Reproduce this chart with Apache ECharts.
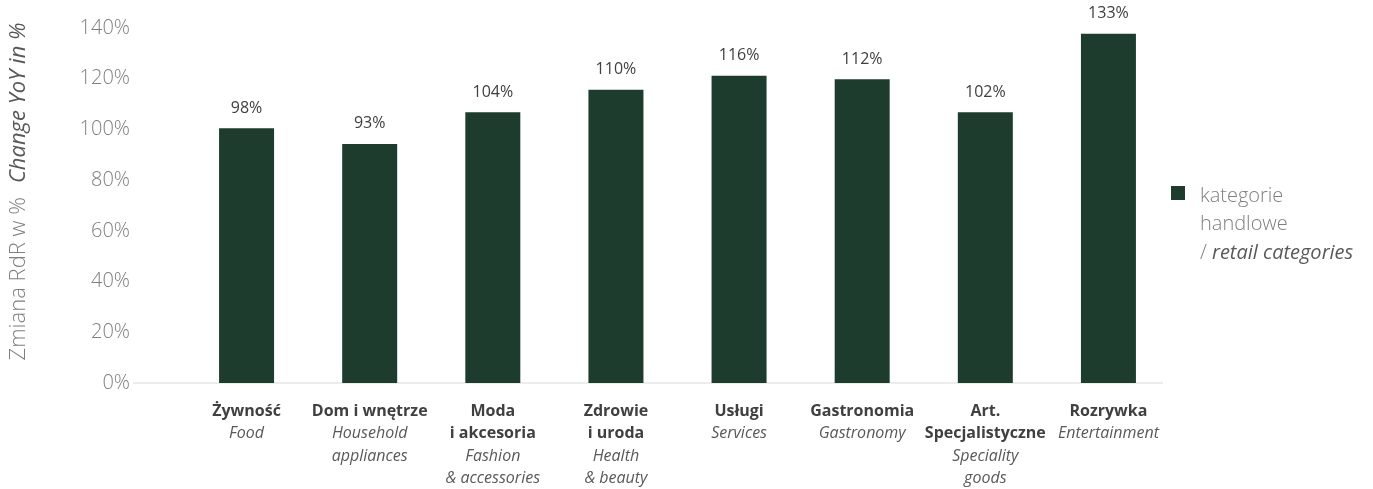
<!DOCTYPE html>
<html>
<head>
<meta charset="utf-8">
<script src="https://cdn.jsdelivr.net/npm/echarts@6/dist/echarts.min.js"></script>
<style>
html,body{margin:0;padding:0;background:#fff;}
#chart{width:1373px;height:489px;}
</style>
</head>
<body>
<div id="chart"></div>
<script>
const categoriesPL = ['Żywność', 'Dom i wnętrze', 'Moda\ni akcesoria', 'Zdrowie\ni uroda', 'Usługi', 'Gastronomia', 'Art.\nSpecjalistyczne', 'Rozrywka'];
const categoriesEN = ['Food', 'Household\nappliances', 'Fashion\n& accessories', 'Health\n& beauty', 'Services', 'Gastronomy', 'Speciality\ngoods', 'Entertainment'];
const barValues = [100.5, 94.3, 106.8, 115.6, 121.2, 119.8, 106.8, 137.7];
const valueLabels = ['98%', '93%', '104%', '110%', '116%', '112%', '102%', '133%'];
const yMin = 0, yMax = 140, yInterval = 20;
const seriesName = 'kategorie handlowe';

const FONT = '"Open Sans", "Noto Sans", sans-serif';
const chart = echarts.init(document.getElementById('chart'));

const option = {
  backgroundColor: '#ffffff',
  animation: false,
  grid: { left: 174, right: 203, top: 28, bottom: 106, containLabel: false },
  legend: {
    left: 1166, top: 181,
    orient: 'vertical',
    icon: 'rect', itemWidth: 14, itemHeight: 14,
    data: [seriesName],
    formatter: function () { return '{a|kategorie}\n{a|handlowe}\n{a|/ }{b|retail categories}'; },
    textStyle: {
      padding: [63, 0, 0, 10],
      rich: {
        a: { fontFamily: FONT, fontWeight: 300, fontSize: 20, color: '#7f7f7f', lineHeight: 28.5 },
        b: { fontFamily: FONT, fontStyle: 'italic', fontSize: 20, color: '#595959', lineHeight: 28.5 }
      }
    }
  },
  xAxis: {
    type: 'category',
    data: categoriesPL,
    axisLine: { show: false },
    axisTick: { show: false },
    axisLabel: {
      interval: 0,
      margin: 17,
      formatter: function (value, idx) {
        const pl = categoriesPL[idx].split('\n').map(s => '{b|' + s + '}');
        const en = categoriesEN[idx].split('\n').map(s => '{i|' + s + '}');
        return pl.concat(en).join('\n');
      },
      rich: {
        b: { fontFamily: FONT, fontWeight: 'bold', fontSize: 16, color: '#404040', lineHeight: 22.5, align: 'center' },
        i: { fontFamily: FONT, fontStyle: 'italic', fontSize: 16, color: '#595959', lineHeight: 22.5, align: 'center' }
      }
    }
  },
  yAxis: {
    type: 'value',
    min: yMin, max: yMax, interval: yInterval,
    splitLine: { show: false },
    axisLine: { show: false },
    axisTick: { show: false },
    axisLabel: {
      margin: 55,
      formatter: function (v) { return v + '%'; },
      fontFamily: FONT, fontWeight: 300, fontSize: 20, color: '#7f7f7f'
    },
    name: '{a|Zmiana RdR w %}{g| }{b|Change YoY in %}',
    nameLocation: 'middle',
    nameRotate: 90,
    nameGap: 155,
    nameTextStyle: {
      rich: {
        a: { fontFamily: FONT, fontWeight: 300, fontSize: 22, color: '#7f7f7f', padding: [0, 0, 0, 28] },
        g: { fontSize: 22, width: 14 },
        b: { fontFamily: FONT, fontStyle: 'italic', fontSize: 22, color: '#595959' }
      }
    }
  },
  series: [{
    name: seriesName,
    type: 'bar',
    data: barValues,
    barWidth: 55,
    itemStyle: { color: '#1e3c2e' },
    label: {
      show: true,
      position: 'top',
      distance: 12,
      formatter: function (p) { return valueLabels[p.dataIndex]; },
      fontFamily: FONT, fontSize: 16, color: '#404040'
    }
  }]
};
chart.setOption(option);

const y0 = chart.convertToPixel({ yAxisIndex: 0 }, 0);
chart.setOption({
  graphic: [{
    type: 'line',
    shape: { x1: 133, y1: y0, x2: 1163, y2: y0 },
    style: { stroke: '#d9d9d9', lineWidth: 1 },
    silent: true
  }]
});
</script>
</body>
</html>
